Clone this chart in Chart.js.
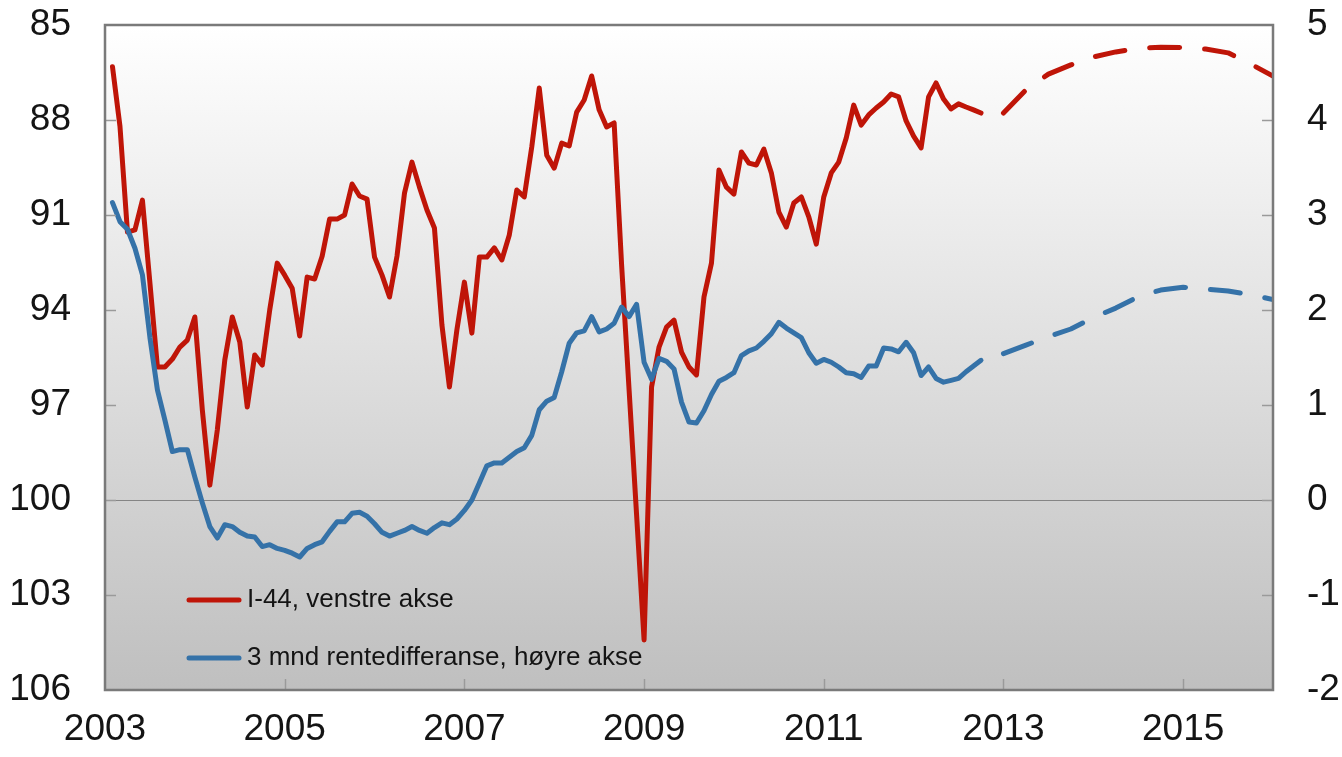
<!DOCTYPE html>
<html><head><meta charset="utf-8">
<script src="https://cdn.jsdelivr.net/npm/chart.js@4.4.0/dist/chart.umd.min.js"></script>
<style>html,body{margin:0;padding:0;background:#fff;}#wrap{width:1342px;height:757px;position:relative;}</style>
</head><body><div id="wrap"><canvas id="c" width="1342" height="757"></canvas></div>
<script>
// ---- data ----
const seriesNames = ['I-44, venstre akse', '3 mnd rentedifferanse, høyre akse'];
const histStartYear = 2003; // monthly observations, Jan 2003 – Sep 2012 (plotted at month end)
const i44Hist = [
 86.32, 88.20, 91.54, 91.47, 90.53, 93.15, 95.80, 95.80, 95.55, 95.17, 94.95, 94.22,
 97.16, 99.53, 97.79, 95.58, 94.22, 95.01, 97.06, 95.42, 95.74, 94.00, 92.52, 92.90,
 93.31, 94.82, 92.96, 93.02, 92.30, 91.13, 91.13, 91.00, 90.02, 90.40, 90.50, 92.33,
 92.90, 93.59, 92.30, 90.31, 89.33, 90.12, 90.84, 91.41, 94.47, 96.43, 94.63, 93.12,
 94.73, 92.33, 92.33, 92.04, 92.42, 91.63, 90.21, 90.43, 88.85, 86.99, 89.11, 89.52,
 88.73, 88.82, 87.75, 87.37, 86.61, 87.68, 88.22, 88.09, 92.58, 96.53, 100.47, 104.42,
 96.43, 95.17, 94.54, 94.32, 95.33, 95.80, 96.05, 93.59, 92.52, 89.58, 90.12, 90.34,
 89.01, 89.36, 89.42, 88.92, 89.67, 90.91, 91.38, 90.62, 90.43, 91.06, 91.92, 90.43,
 89.67, 89.33, 88.57, 87.53, 88.16, 87.84, 87.62, 87.43, 87.18, 87.27, 88.03, 88.51,
 88.88, 87.27, 86.83, 87.34, 87.65, 87.49, 87.59, 87.68, 87.78
];
const rateDiffHist = [
 3.13, 2.93, 2.85, 2.65, 2.37, 1.71, 1.16, 0.84, 0.51, 0.53, 0.53, 0.24,
 -0.03, -0.28, -0.40, -0.26, -0.28, -0.34, -0.38, -0.39, -0.49, -0.47, -0.51, -0.53,
 -0.56, -0.60, -0.51, -0.47, -0.44, -0.33, -0.23, -0.23, -0.14, -0.13, -0.17, -0.25,
 -0.34, -0.38, -0.35, -0.32, -0.28, -0.32, -0.35, -0.29, -0.24, -0.26, -0.20, -0.11,
 0.00, 0.18, 0.36, 0.39, 0.39, 0.45, 0.51, 0.55, 0.68, 0.95, 1.04, 1.08,
 1.35, 1.65, 1.76, 1.78, 1.93, 1.77, 1.80, 1.86, 2.03, 1.93, 2.06, 1.45,
 1.27, 1.49, 1.46, 1.38, 1.03, 0.82, 0.81, 0.94, 1.11, 1.25, 1.29, 1.34,
 1.52, 1.57, 1.60, 1.67, 1.75, 1.87, 1.81, 1.76, 1.71, 1.55, 1.44, 1.48,
 1.45, 1.40, 1.34, 1.33, 1.29, 1.41, 1.41, 1.60, 1.59, 1.56, 1.66, 1.55,
 1.31, 1.40, 1.28, 1.24, 1.26, 1.28, 1.35, 1.41, 1.47
];
const forecastX = [2013, 2013.25, 2013.5, 2013.75, 2014, 2014.25, 2014.5, 2014.75, 2015, 2015.25, 2015.5, 2015.75, 2016];
const i44Forecast = [87.78, 87.05, 86.55, 86.26, 86.01, 85.85, 85.74, 85.70, 85.71, 85.76, 85.88, 86.23, 86.61];
const rateDiffForecast = [1.54, 1.63, 1.72, 1.80, 1.92, 2.02, 2.14, 2.21, 2.24, 2.22, 2.20, 2.16, 2.11];
const xTicks = [2003, 2005, 2007, 2009, 2011, 2013, 2015];
const leftTicks = [85, 88, 91, 94, 97, 100, 103, 106];
const rightTicks = [-2, -1, 0, 1, 2, 3, 4, 5];

// ---- build ----
const histX = i44Hist.map((_, i) => histStartYear + (i + 1) / 12);
const pts = (xs, ys) => ys.map((y, i) => ({x: xs[i], y}));
const RED = '#bf1508', BLUE = '#3572a8';
const FONT = '"Liberation Sans", Arial, sans-serif';
const TXT = '#141414';

const bgPlugin = {
  id: 'bg',
  beforeDraw(chart) {
    const {ctx, chartArea: a} = chart;
    ctx.save();
    ctx.fillStyle = '#fff'; ctx.fillRect(0, 0, chart.width, chart.height);
    const g = ctx.createLinearGradient(0, a.top, 0, a.bottom);
    g.addColorStop(0, '#ffffff'); g.addColorStop(1, '#bfbfbf');
    ctx.fillStyle = g; ctx.fillRect(a.left, a.top, a.right - a.left, a.bottom - a.top);
    ctx.restore();
  }
};
const frameTicks = {
  id: 'frameTicks',
  afterDatasetsDraw(chart) {
    const {ctx, chartArea: a, scales} = chart;
    ctx.save();
    ctx.strokeStyle = '#9a9a9a'; ctx.lineWidth = 1.5;
    ctx.beginPath();
    scales.y.ticks.forEach(t => { const p = Math.round(scales.y.getPixelForValue(t.value)) + 0.5; if (p > a.top + 2 && p < a.bottom - 2) { ctx.moveTo(a.left, p); ctx.lineTo(a.left + 11, p); } });
    scales.y2.ticks.forEach(t => { const p = Math.round(scales.y2.getPixelForValue(t.value)) + 0.5; if (p > a.top + 2 && p < a.bottom - 2) { ctx.moveTo(a.right, p); ctx.lineTo(a.right - 11, p); } });
    scales.x.ticks.forEach(t => { const p = Math.round(scales.x.getPixelForValue(t.value)) + 0.5; if (p > a.left + 2 && p < a.right - 2) { ctx.moveTo(p, a.bottom); ctx.lineTo(p, a.bottom - 11); } });
    ctx.stroke();
    ctx.strokeStyle = '#7a7a7a'; ctx.lineWidth = 2.5;
    ctx.strokeRect(a.left, a.top, a.right - a.left, a.bottom - a.top);
    ctx.restore();
  }
};
const legendPlugin = {
  id: 'customLegend',
  afterDraw(chart) {
    const {ctx, chartArea: a} = chart;
    const rows = [{ds: 0, y: a.bottom - 90}, {ds: 2, y: a.bottom - 32}];
    ctx.save();
    rows.forEach(r => {
      const d = chart.data.datasets[r.ds];
      ctx.strokeStyle = d.borderColor; ctx.lineWidth = 5; ctx.lineCap = 'round';
      ctx.beginPath(); ctx.moveTo(a.left + 84, r.y); ctx.lineTo(a.left + 134, r.y); ctx.stroke();
      ctx.fillStyle = TXT; ctx.font = '26px ' + FONT; ctx.textBaseline = 'middle'; ctx.textAlign = 'left';
      ctx.fillText(d.label, a.left + 142, r.y);
    });
    ctx.restore();
  }
};

const lineBase = {pointRadius: 0, borderWidth: 5, tension: 0, borderJoinStyle: 'round', borderCapStyle: 'round', fill: false};
const noPadV = s => { s.paddingTop = 0; s.paddingBottom = 0; };

new Chart(document.getElementById('c'), {
  type: 'line',
  data: {
    datasets: [
      Object.assign({label: seriesNames[0], data: pts(histX, i44Hist), borderColor: RED, yAxisID: 'y', order: 2}, lineBase),
      Object.assign({label: seriesNames[0] + ' (prognose)', data: pts(forecastX, i44Forecast), borderColor: RED, yAxisID: 'y', borderDash: [30, 25], order: 3}, lineBase),
      Object.assign({label: seriesNames[1], data: pts(histX, rateDiffHist), borderColor: BLUE, yAxisID: 'y2', order: 0}, lineBase),
      Object.assign({label: seriesNames[1] + ' (prognose)', data: pts(forecastX, rateDiffForecast), borderColor: BLUE, yAxisID: 'y2', borderDash: [30, 25], order: 1}, lineBase)
    ]
  },
  options: {
    responsive: false, animation: false, devicePixelRatio: 1,
    layout: {padding: {top: 25, right: 0, bottom: 0, left: 0}},
    plugins: {legend: {display: false}, tooltip: {enabled: false}},
    scales: {
      x: {
        type: 'linear', position: 'bottom', min: 2003, max: 2016,
        afterBuildTicks: s => { s.ticks = xTicks.map(v => ({value: v})); },
        afterFit: s => { s.height = 67; s.paddingLeft = 0; s.paddingRight = 0; },
        grid: {display: false, drawTicks: false}, border: {display: false},
        ticks: {font: {family: FONT, size: 37}, color: TXT, padding: 18, maxRotation: 0, autoSkip: false, callback: v => String(v)}
      },
      y: {
        position: 'left', reverse: true, min: 85, max: 106,
        afterBuildTicks: s => { s.ticks = leftTicks.map(v => ({value: v})); },
        afterFit: s => { s.width = 105; noPadV(s); },
        grid: {drawTicks: false, lineWidth: 1, color: c => (c.tick && c.tick.value === 100) ? '#858585' : 'rgba(0,0,0,0)'},
        border: {display: false},
        ticks: {font: {family: FONT, size: 37}, color: TXT, padding: 34, callback: v => String(v)}
      },
      y2: {
        position: 'right', min: -2, max: 5,
        afterBuildTicks: s => { s.ticks = rightTicks.map(v => ({value: v})); },
        afterFit: s => { s.width = 69; noPadV(s); },
        grid: {display: false, drawTicks: false}, border: {display: false},
        ticks: {font: {family: FONT, size: 37}, color: TXT, padding: 34, callback: v => String(v)}
      }
    }
  },
  plugins: [bgPlugin, frameTicks, legendPlugin]
});
</script></body></html>
